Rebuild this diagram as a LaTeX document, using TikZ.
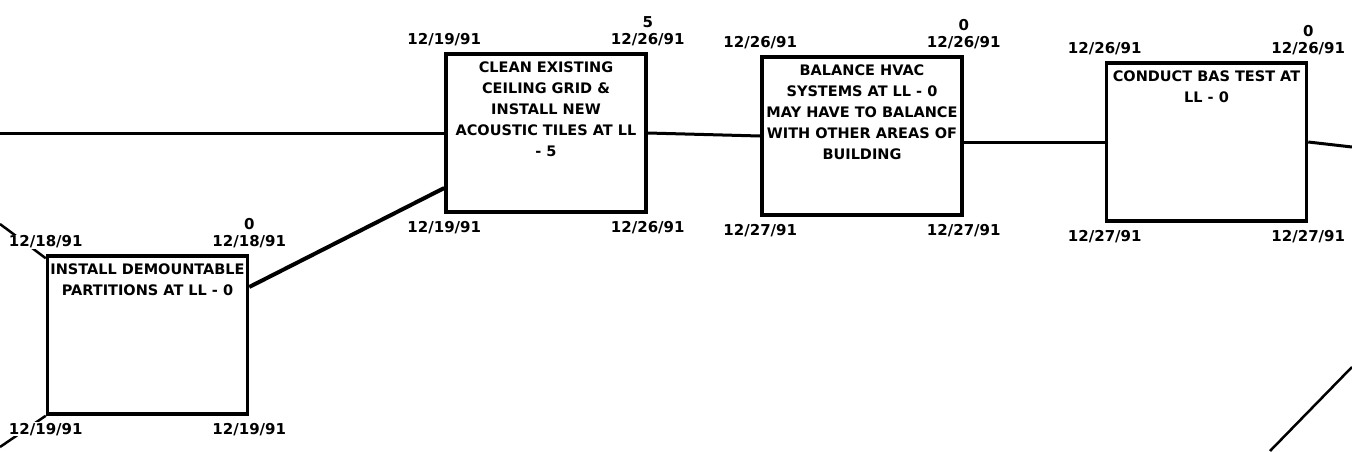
\documentclass[tikz,border=0pt]{standalone}
\usepackage{fontspec}
\setmainfont{DejaVu Sans}
\usetikzlibrary{positioning}
\begin{document}
\begin{tikzpicture}[x=1pt,y=-1pt,every node/.style={font=\bfseries\fontsize{14.5}{21}\selectfont},
  actbox/.style={draw,line width=3.5pt,minimum width=200pt,minimum height=158pt,inner sep=0pt},
  acttxt/.style={anchor=north,align=center,inner sep=0pt},
  datelbl/.style={fill=white,inner sep=1pt,font=\bfseries\fontsize{15}{16}\selectfont},
  link/.style={line width=3pt}]
\useasboundingbox (0,0) rectangle (1352,451);
% activity boxes, text hung from the top edge
\foreach \n/\cx/\cy/\txt in {A/147.5/335/{INSTALL DEMOUNTABLE\\PARTITIONS AT LL - 0},
  B/546/133/{CLEAN EXISTING\\CEILING GRID \&\\INSTALL NEW\\ACOUSTIC TILES AT LL\\- 5},
  C/862/136/{BALANCE HVAC\\SYSTEMS AT LL - 0\\MAY HAVE TO BALANCE\\WITH OTHER AREAS OF\\BUILDING},
  D/1206.5/142/{CONDUCT BAS TEST AT\\LL - 0}} {
  \node[actbox] (\n) at (\cx,\cy) {};
  \node[acttxt] (\n-txt) at ([yshift=-9pt]\n.north) {\txt};
}
% loose ends running off the sheet
\coordinate (inL) at (0,133);
\coordinate (outR) at (1352,147);
\coordinate (inTL) at (0,224);
\coordinate (inBL) at (0,447);
\coordinate (outBR1) at (1352,367);
\coordinate (outBR2) at (1270,451);
\draw[link] (inL) -- (B.west);
\draw[link] (B.east) -- (C.west);
\draw[link] (C.east |- D.west) -- (D.west);
\draw[link] (D.east) -- (outR);
\draw[link,line width=4pt] ([yshift=48pt]A.east) -- ([yshift=-55pt]B.west);
\draw[link,line width=2.5pt] (inTL) -- ([yshift=-4pt]A.north west);
\draw[link,line width=2.5pt] (inBL) -- (A.south west);
\draw[link,line width=2.5pt] (outBR1) -- (outBR2);
% early/late dates at the corners, float above
\foreach \n/\es/\ef/\fl/\ls/\lf in {A/{12/18/91}/{12/18/91}/0/{12/19/91}/{12/19/91},
  B/{12/19/91}/{12/26/91}/5/{12/19/91}/{12/26/91},
  C/{12/26/91}/{12/26/91}/0/{12/27/91}/{12/27/91},
  D/{12/26/91}/{12/26/91}/0/{12/27/91}/{12/27/91}} {
  \node[datelbl,above=5pt of \n.north west] (\n-es) {\es};
  \node[datelbl,above=5pt of \n.north east] (\n-ef) {\ef};
  \node[datelbl,above=3pt of \n-ef] (\n-fl) {\fl};
  \node[datelbl,below=6pt of \n.south west] (\n-ls) {\ls};
  \node[datelbl,below=6pt of \n.south east] (\n-lf) {\lf};
}
\end{tikzpicture}
\end{document}
